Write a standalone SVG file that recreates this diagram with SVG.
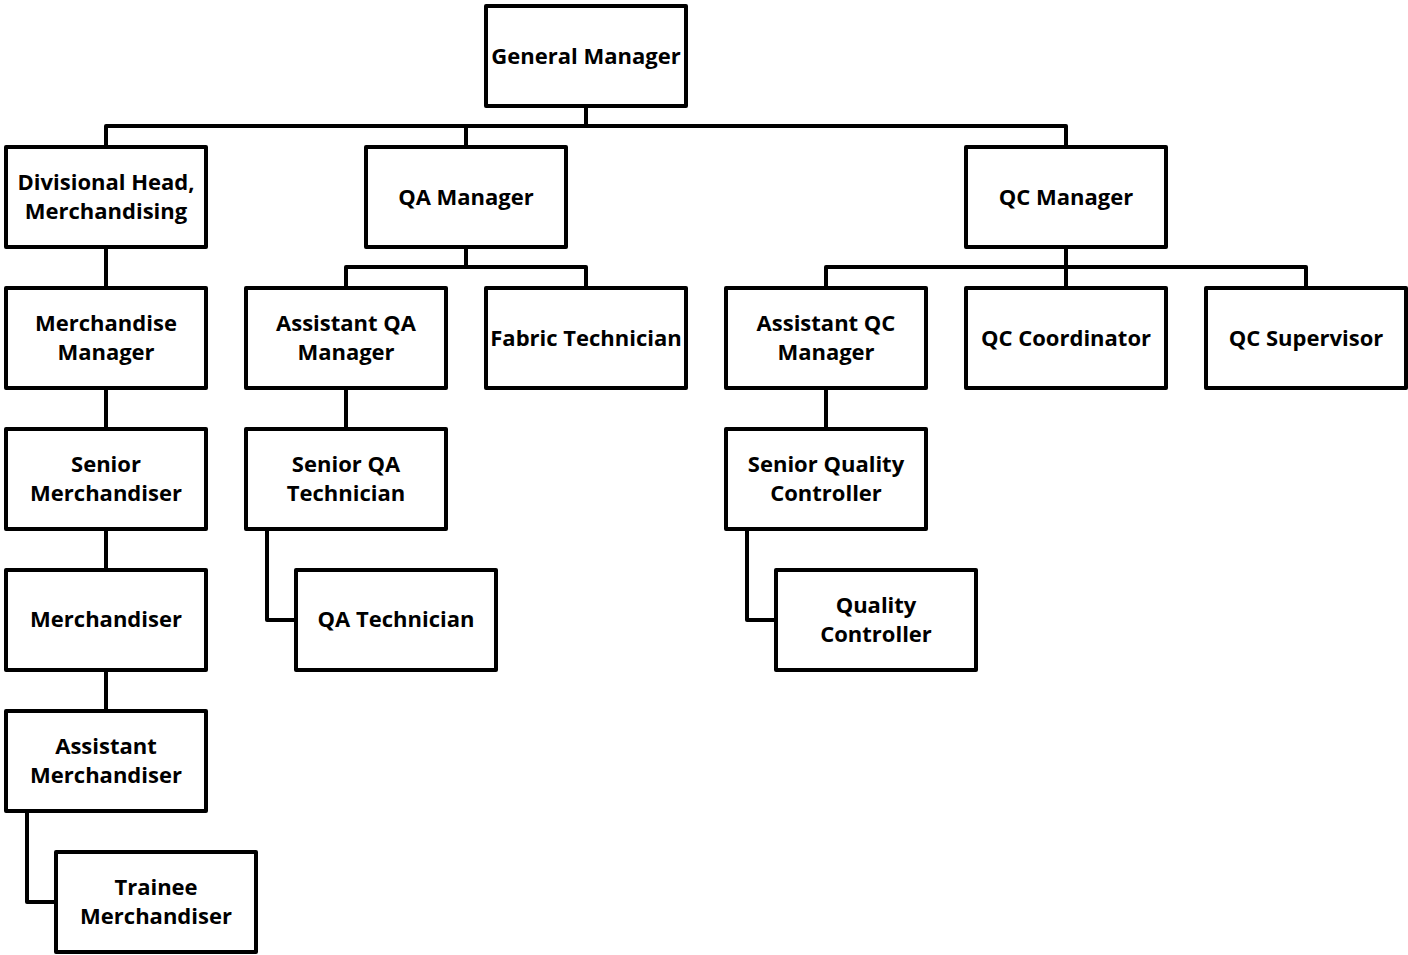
<svg xmlns="http://www.w3.org/2000/svg" width="1408" height="955" viewBox="0 0 1408 955">
<style>
.box{fill:#fff;stroke:#000;stroke-width:4;stroke-linejoin:round}
.ln{fill:none;stroke:#000;stroke-width:4;stroke-linejoin:round}
text{font-family:"Open Sans","Liberation Sans",sans-serif;font-weight:bold;font-size:22px;fill:#000;text-anchor:middle}
</style>
<rect width="1408" height="955" fill="#fff"/>
<g id="connectors">
<path class="ln" d="M586 106V126M106 147V126H1066V147M466 126V147"/>
<path class="ln" d="M106 247V288M106 388V429M106 529V570M106 670V711"/>
<path class="ln" d="M27 811V902H56"/>
<path class="ln" d="M466 247V267M346 288V267H586V288M346 388V429"/>
<path class="ln" d="M267 529V620H296"/>
<path class="ln" d="M1066 247V267M826 288V267H1306V288M1066 267V288M826 388V429"/>
<path class="ln" d="M747 529V620H776"/>
</g>
<g id="gm"><rect class="box" x="486" y="6" width="200" height="100"/><text x="586" y="64">General Manager</text></g>
<g id="divhead"><rect class="box" x="6" y="147" width="200" height="100"/><text x="106" y="190">Divisional Head,</text><text x="106" y="219">Merchandising</text></g>
<g id="qamgr"><rect class="box" x="366" y="147" width="200" height="100"/><text x="466" y="205">QA Manager</text></g>
<g id="qcmgr"><rect class="box" x="966" y="147" width="200" height="100"/><text x="1066" y="205">QC Manager</text></g>
<g id="merchmgr"><rect class="box" x="6" y="288" width="200" height="100"/><text x="106" y="331">Merchandise</text><text x="106" y="360">Manager</text></g>
<g id="asstqa"><rect class="box" x="246" y="288" width="200" height="100"/><text x="346" y="331">Assistant QA</text><text x="346" y="360">Manager</text></g>
<g id="fabric"><rect class="box" x="486" y="288" width="200" height="100"/><text x="586" y="346">Fabric Technician</text></g>
<g id="asstqc"><rect class="box" x="726" y="288" width="200" height="100"/><text x="826" y="331">Assistant QC</text><text x="826" y="360">Manager</text></g>
<g id="qccoord"><rect class="box" x="966" y="288" width="200" height="100"/><text x="1066" y="346">QC Coordinator</text></g>
<g id="qcsup"><rect class="box" x="1206" y="288" width="200" height="100"/><text x="1306" y="346">QC Supervisor</text></g>
<g id="srmerch"><rect class="box" x="6" y="429" width="200" height="100"/><text x="106" y="472">Senior</text><text x="106" y="501">Merchandiser</text></g>
<g id="srqa"><rect class="box" x="246" y="429" width="200" height="100"/><text x="346" y="472">Senior QA</text><text x="346" y="501">Technician</text></g>
<g id="srqc"><rect class="box" x="726" y="429" width="200" height="100"/><text x="826" y="472">Senior Quality</text><text x="826" y="501">Controller</text></g>
<g id="merch"><rect class="box" x="6" y="570" width="200" height="100"/><text x="106" y="627">Merchandiser</text></g>
<g id="qatech"><rect class="box" x="296" y="570" width="200" height="100"/><text x="396" y="627">QA Technician</text></g>
<g id="qc"><rect class="box" x="776" y="570" width="200" height="100"/><text x="876" y="613">Quality</text><text x="876" y="642">Controller</text></g>
<g id="asstmerch"><rect class="box" x="6" y="711" width="200" height="100"/><text x="106" y="754">Assistant</text><text x="106" y="783">Merchandiser</text></g>
<g id="trainee"><rect class="box" x="56" y="852" width="200" height="100"/><text x="156" y="895">Trainee</text><text x="156" y="924">Merchandiser</text></g>
</svg>
